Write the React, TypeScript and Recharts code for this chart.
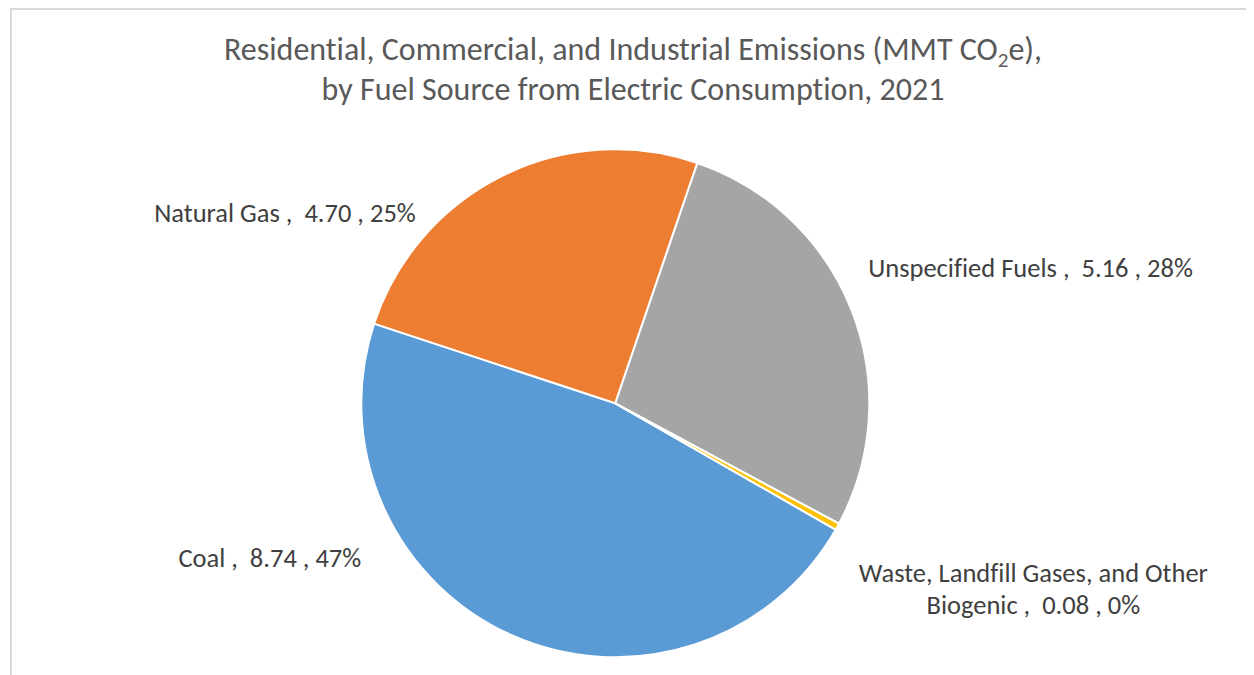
import React from 'react';
import { PieChart, Pie, Cell } from 'recharts';

const categories = ['Coal', 'Natural Gas', 'Unspecified Fuels', 'Waste, Landfill Gases, and Other Biogenic'];
const emissions = [8.74, 4.7, 5.16, 0.08];
const sliceColors = ['#5B9BD5', '#ED7D31', '#A5A5A5', '#FFC000'];
const titleLine1Before = 'Residential, Commercial, and Industrial Emissions (MMT CO';
const titleLine1Sub = '2';
const titleLine1After = 'e),';
const titleLine2 = 'by Fuel Source from Electric Consumption, 2021';

// label placement (layout only): polar offset from pie centre, in units of the outer radius
const labelLayout = [
  { angle: -155.9, dist: 1.49, wrapAfter: '' },
  { angle: 150.1, dist: 1.5, wrapAfter: '' },
  { angle: 18.1, dist: 1.72, wrapAfter: '' },
  { angle: -23.9, dist: 1.8, wrapAfter: 'Other' },
];

const data = categories.map((name, i) => ({ name, value: emissions[i] }));
const total = emissions.reduce((a, b) => a + b, 0);

const FONT = 'Carlito, Calibri, Lato, sans-serif';
const RAD = Math.PI / 180;

const renderLabel = (props: any) => {
  const { cx, cy, outerRadius, index, value, name } = props;
  const lay = labelLayout[index];
  const r = outerRadius * lay.dist;
  const x = cx + r * Math.cos(lay.angle * RAD);
  const y = cy - r * Math.sin(lay.angle * RAD);
  const pct = Math.round((value / total) * 100);
  const full = `${name} ,  ${value.toFixed(2)} , ${pct}%`;
  let lines = [full];
  if (lay.wrapAfter) {
    const k = full.indexOf(lay.wrapAfter) + lay.wrapAfter.length;
    lines = [full.slice(0, k), full.slice(k).trim()];
  }
  const lh = 32;
  const y0 = y - ((lines.length - 1) * lh) / 2;
  return (
    <text
      key={`lbl-${index}`}
      x={x}
      y={y0}
      textAnchor="middle"
      dominantBaseline="central"
      fill="#404040"
      fontSize={26.5}
      fontFamily={FONT}
      style={{ whiteSpace: 'pre', fontVariantLigatures: 'none' }}
    >
      {lines.map((ln, i) => (
        <tspan key={i} x={x} y={y0 + i * lh}>
          {ln}
        </tspan>
      ))}
    </text>
  );
};

export default function App() {
  return (
    <div style={{ position: 'relative', width: 1246, height: 667, background: '#fff' }}>
      <div
        style={{
          position: 'absolute',
          left: 2,
          top: 0,
          width: 1244,
          height: 667,
          borderTop: '2px solid #D9D9D9',
          borderLeft: '2px solid #D9D9D9',
          boxSizing: 'border-box',
        }}
      />
      <div style={{ position: 'absolute', left: 0, top: 0 }}>
        <PieChart width={1246} height={667} margin={{ top: 0, right: 0, bottom: 0, left: 0 }}>
          <Pie
            data={data}
            dataKey="value"
            nameKey="name"
            cx={607.3}
            cy={395.3}
            outerRadius={254}
            startAngle={-29.84}
            endAngle={-389.84}
            stroke="#FFFFFF"
            strokeWidth={2}
            isAnimationActive={false}
            label={renderLabel}
            labelLine={false}
          >
            {data.map((d, i) => (
              <Cell key={d.name} fill={sliceColors[i]} />
            ))}
          </Pie>
        </PieChart>
      </div>
      <svg
        width={1246}
        height={120}
        style={{ position: 'absolute', left: 0, top: 0, pointerEvents: 'none' }}
      >
        <text
          x={625}
          y={52}
          textAnchor="middle"
          fill="#595959"
          fontSize={32}
          fontFamily={FONT}
          style={{ whiteSpace: 'pre', fontVariantLigatures: 'none' }}
        >
          {titleLine1Before}
          <tspan dy={7} fontSize={21}>{titleLine1Sub}</tspan>
          <tspan dy={-7}>{titleLine1After}</tspan>
        </text>
        <text
          x={625}
          y={92}
          textAnchor="middle"
          fill="#595959"
          fontSize={32}
          fontFamily={FONT}
          style={{ fontVariantLigatures: 'none' }}
        >
          {titleLine2}
        </text>
      </svg>
    </div>
  );
}
